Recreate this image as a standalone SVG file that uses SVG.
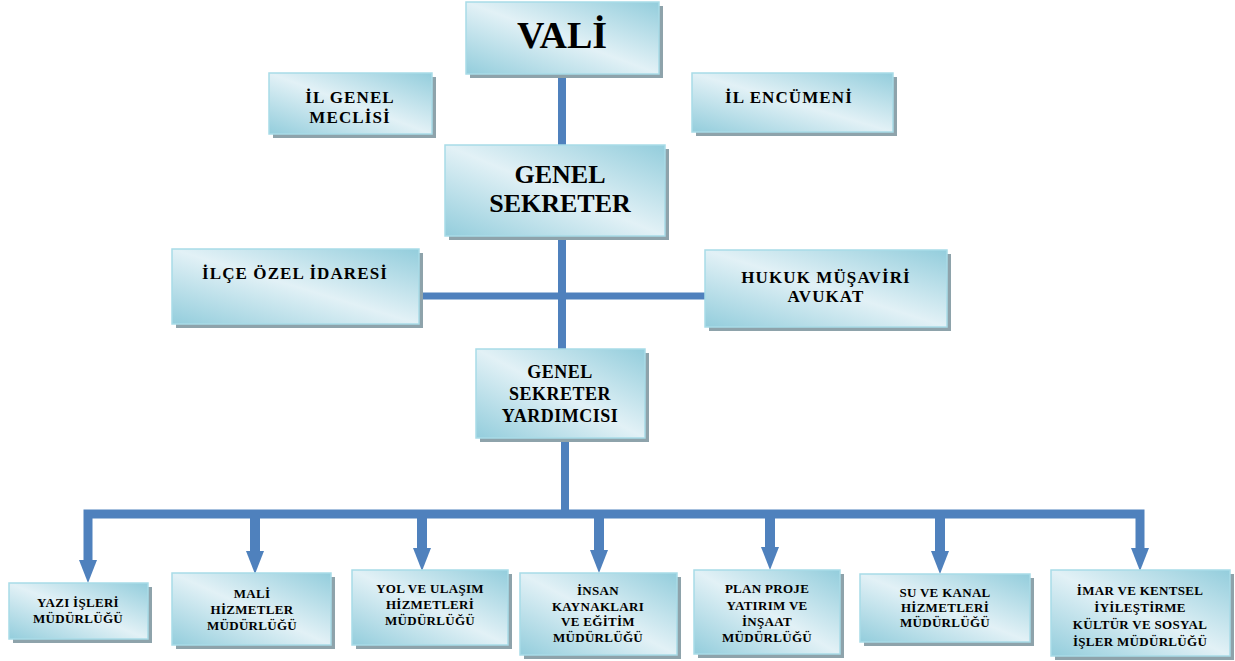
<svg xmlns="http://www.w3.org/2000/svg" width="1235" height="661" viewBox="0 0 1235 661">
<defs>
<linearGradient id="g" x1="0" y1="1" x2="1" y2="0">
<stop offset="0" stop-color="#93cddc"/>
<stop offset="0.5" stop-color="#e2f1f6"/>
<stop offset="1" stop-color="#93cddc"/>
</linearGradient>
</defs>
<style>
.sh{fill:#8ea3ab}
.bx{fill:url(#g);stroke:#a8dbe7;stroke-width:1.5}
text{font-family:"Liberation Serif","Times New Roman",serif;font-weight:bold;fill:#000;text-anchor:middle}
.t1{font-size:38px}
.t2{font-size:26px}
.t3{font-size:17px;letter-spacing:1.1px}
.t4{font-size:18px;letter-spacing:0.5px}
.t5{font-size:13px;letter-spacing:0.3px}
.ln{stroke:#4f81bd;fill:none;stroke-linejoin:miter}
.ah{fill:#4f81bd}
</style>
<rect width="1235" height="661" fill="#fff"/>
<g id="connectors">
<line class="ln" x1="562" y1="74" x2="562" y2="145" stroke-width="8"/>
<line class="ln" x1="562" y1="236" x2="562" y2="349" stroke-width="8"/>
<line class="ln" x1="419" y1="296" x2="705" y2="296" stroke-width="7"/>
<line class="ln" x1="565" y1="438" x2="565" y2="514" stroke-width="8"/>
<path class="ln" d="M88 562 V514 H1140 V550" stroke-width="9"/>
<line class="ln" x1="255" y1="514" x2="255" y2="554" stroke-width="10"/>
<line class="ln" x1="422" y1="514" x2="422" y2="551" stroke-width="10"/>
<line class="ln" x1="599" y1="514" x2="599" y2="553" stroke-width="10"/>
<line class="ln" x1="770" y1="514" x2="770" y2="550" stroke-width="10"/>
<line class="ln" x1="940" y1="514" x2="940" y2="554" stroke-width="10"/>
<polygon class="ah" points="79,560 97,560 88,583"/>
<polygon class="ah" points="246,551 264,551 255,574"/>
<polygon class="ah" points="413,548 431,548 422,571"/>
<polygon class="ah" points="590,550 608,550 599,573"/>
<polygon class="ah" points="761,547 779,547 770,570"/>
<polygon class="ah" points="931,551 949,551 940,574"/>
<polygon class="ah" points="1131,548 1149,548 1140,571"/>
</g>
<g id="vali">
<rect class="sh" x="470" y="6" width="193" height="72"/>
<rect class="bx" x="466" y="2" width="193" height="72"/>
<text class="t1" x="562" y="48">VALİ</text>
</g>
<g id="il-genel-meclisi">
<rect class="sh" x="273" y="77" width="163" height="61"/>
<rect class="bx" x="269" y="73" width="163" height="61"/>
<text class="t3" x="350" y="103">İL GENEL</text>
<text class="t3" x="350" y="123">MECLİSİ</text>
</g>
<g id="il-encumeni">
<rect class="sh" x="696" y="77" width="201" height="59"/>
<rect class="bx" x="692" y="73" width="201" height="59"/>
<text class="t3" x="789" y="103">İL ENCÜMENİ</text>
</g>
<g id="genel-sekreter">
<rect class="sh" x="449" y="149" width="220" height="91"/>
<rect class="bx" x="445" y="145" width="220" height="91"/>
<text class="t2" x="560" y="183">GENEL</text>
<text class="t2" x="560" y="212">SEKRETER</text>
</g>
<g id="ilce-ozel-idaresi">
<rect class="sh" x="176" y="253" width="247" height="75"/>
<rect class="bx" x="172" y="249" width="247" height="75"/>
<text class="t3" x="295" y="279">İLÇE ÖZEL İDARESİ</text>
</g>
<g id="hukuk">
<rect class="sh" x="709" y="254" width="242" height="77"/>
<rect class="bx" x="705" y="250" width="242" height="77"/>
<text class="t3" x="826" y="283">HUKUK MÜŞAVİRİ</text>
<text class="t3" x="826" y="302">AVUKAT</text>
</g>
<g id="gs-yardimcisi">
<rect class="sh" x="480" y="353" width="169" height="89"/>
<rect class="bx" x="476" y="349" width="169" height="89"/>
<text class="t4" x="560" y="378">GENEL</text>
<text class="t4" x="560" y="400">SEKRETER</text>
<text class="t4" x="560" y="422">YARDIMCISI</text>
</g>
<g id="yazi">
<rect class="sh" x="13" y="587" width="139" height="56"/>
<rect class="bx" x="9" y="583" width="139" height="56"/>
<text class="t5" x="78" y="607">YAZI İŞLERİ</text>
<text class="t5" x="78" y="623">MÜDÜRLÜĞÜ</text>
</g>
<g id="mali">
<rect class="sh" x="176" y="577" width="159" height="72"/>
<rect class="bx" x="172" y="573" width="159" height="72"/>
<text class="t5" x="252" y="598">MALİ</text>
<text class="t5" x="252" y="614">HİZMETLER</text>
<text class="t5" x="252" y="630">MÜDÜRLÜĞÜ</text>
</g>
<g id="yol">
<rect class="sh" x="356" y="574" width="156" height="75"/>
<rect class="bx" x="352" y="570" width="156" height="75"/>
<text class="t5" x="430" y="593">YOL VE ULAŞIM</text>
<text class="t5" x="430" y="609">HİZMETLERİ</text>
<text class="t5" x="430" y="625">MÜDÜRLÜĞÜ</text>
</g>
<g id="insan">
<rect class="sh" x="524" y="577" width="157" height="82"/>
<rect class="bx" x="520" y="573" width="157" height="82"/>
<text class="t5" x="598" y="595">İNSAN</text>
<text class="t5" x="598" y="611">KAYNAKLARI</text>
<text class="t5" x="598" y="626">VE EĞİTİM</text>
<text class="t5" x="598" y="642">MÜDÜRLÜĞÜ</text>
</g>
<g id="plan">
<rect class="sh" x="698" y="574" width="146" height="84"/>
<rect class="bx" x="694" y="570" width="146" height="84"/>
<text class="t5" x="767" y="593">PLAN PROJE</text>
<text class="t5" x="767" y="610">YATIRIM VE</text>
<text class="t5" x="767" y="626">İNŞAAT</text>
<text class="t5" x="767" y="642">MÜDÜRLÜĞÜ</text>
</g>
<g id="su">
<rect class="sh" x="864" y="578" width="170" height="68"/>
<rect class="bx" x="860" y="574" width="170" height="68"/>
<text class="t5" x="945" y="597">SU VE KANAL</text>
<text class="t5" x="945" y="612">HİZMETLERİ</text>
<text class="t5" x="945" y="627">MÜDÜRLÜĞÜ</text>
</g>
<g id="imar">
<rect class="sh" x="1055" y="574" width="179" height="86"/>
<rect class="bx" x="1051" y="570" width="179" height="86"/>
<text class="t5" x="1140" y="595">İMAR VE KENTSEL</text>
<text class="t5" x="1140" y="612">İYİLEŞTİRME</text>
<text class="t5" x="1140" y="629">KÜLTÜR VE SOSYAL</text>
<text class="t5" x="1140" y="646">İŞLER MÜDÜRLÜĞÜ</text>
</g>
</svg>
